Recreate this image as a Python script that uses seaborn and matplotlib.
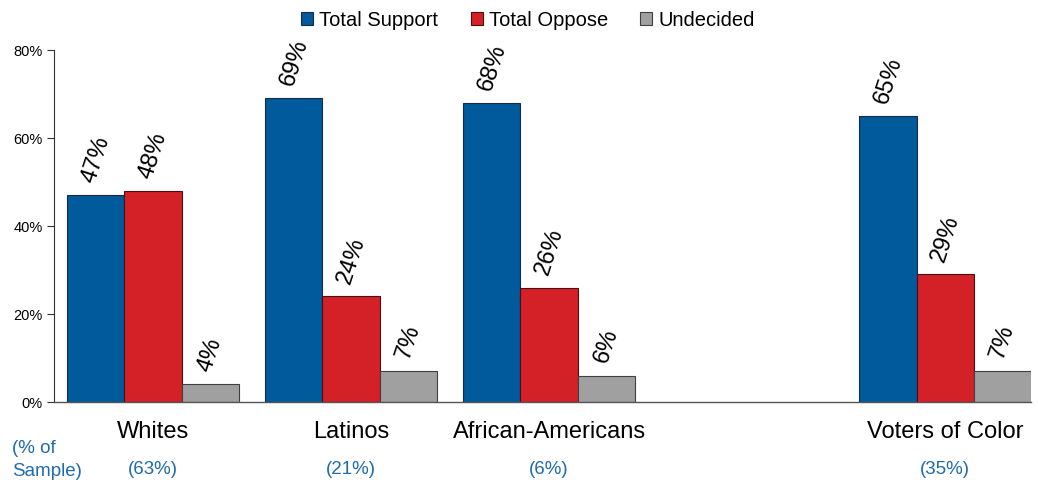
import matplotlib
matplotlib.use("Agg")
import matplotlib.pyplot as plt
import seaborn as sns
import pandas as pd
from matplotlib.transforms import blended_transform_factory

# Survey results by group (percent)
categories = ["Whites", "Latinos", "African-Americans", "Voters of Color"]
support = [47, 69, 68, 65]
oppose = [48, 24, 26, 29]
undecided = [4, 7, 6, 7]
sample_share = ["(63%)", "(21%)", "(6%)", "(35%)"]
series_names = ["Total Support", "Total Oppose", "Undecided"]
y_ticks = [0, 20, 40, 60, 80]

colors = ["#005A9C", "#D42027", "#A0A0A0"]
edge_colors = ["#1a2a40", "#4a1010", "#404040"]

sns.set_theme(style="white")
plt.rcParams["font.family"] = ["Liberation Sans", "DejaVu Sans"]
plt.rcParams["text.color"] = "black"
plt.rcParams["xtick.color"] = "black"
plt.rcParams["ytick.color"] = "black"

rows = []
for cat, s, o, u in zip(categories, support, oppose, undecided):
    for name, v in zip(series_names, (s, o, u)):
        rows.append({"group": cat, "series": name, "value": v})
df = pd.DataFrame(rows)

# a blank slot separates the combined group from the individual ones
spacer = " "
order = categories[:3] + [spacer] + categories[3:]

fig = plt.figure(figsize=(10.38, 4.83), dpi=100)
ax = fig.add_axes([54 / 1038, 1 - 402 / 483, (1031 - 54) / 1038, (402 - 50) / 483])

sns.barplot(data=df, x="group", y="value", hue="series", order=order,
            hue_order=series_names, palette=colors, width=0.865, gap=0,
            saturation=1, ax=ax, legend=False, errorbar=None)

for cont, ec in zip(ax.containers, edge_colors):
    for p in cont:
        p.set_edgecolor(ec)
        p.set_linewidth(0.8)
    labels = [f"{p.get_height():.0f}%" for p in cont]
    ax.bar_label(cont, labels=labels, rotation=72, padding=7, fontsize=17,
                 color="black")

ax.set_xlim(-0.5, 4.434)
ax.set_ylim(0, 80)
ax.set_yticks(y_ticks)
ax.set_yticklabels([f"{t}%" for t in y_ticks], fontsize=10.5, color="black")
ax.tick_params(axis="y", direction="out", length=5, width=0.8, color="#333333", pad=3,
               left=True)
ax.tick_params(axis="x", length=0, pad=14, labelsize=17, labelcolor="black")
ax.set_xticks(range(len(order)))
ax.set_xticklabels(order)
ax.set_xlabel("")
ax.set_ylabel("")

for side in ("top", "right"):
    ax.spines[side].set_visible(False)
ax.spines["left"].set_color("#333333")
ax.spines["left"].set_linewidth(0.8)
ax.spines["bottom"].set_color("#555555")
ax.spines["bottom"].set_linewidth(1.0)

# sample share row
trans = blended_transform_factory(ax.transData, fig.transFigure)
sample_color = "#1F6BAE"
for cat, share in zip(categories, sample_share):
    ax.text(order.index(cat), 1 - 470 / 483, share, transform=trans,
            ha="center", va="center", fontsize=13.5, color=sample_color)
fig.text(12 / 1038, 1 - 460 / 483, "(% of\nSample)", ha="left", va="center",
         fontsize=13.5, color=sample_color, linespacing=1.45)

handles = [plt.Rectangle((0, 0), 1, 1, facecolor=c, edgecolor=e, linewidth=0.8)
           for c, e in zip(colors, edge_colors)]
fig.legend(handles, series_names, loc="center", bbox_to_anchor=(528 / 1038, 1 - 20 / 483),
           ncol=3, frameon=False, fontsize=14.5, handlelength=0.6, handleheight=0.6,
           handletextpad=0.3, columnspacing=1.6, labelcolor="black")

fig.savefig("out.png", dpi=100)
